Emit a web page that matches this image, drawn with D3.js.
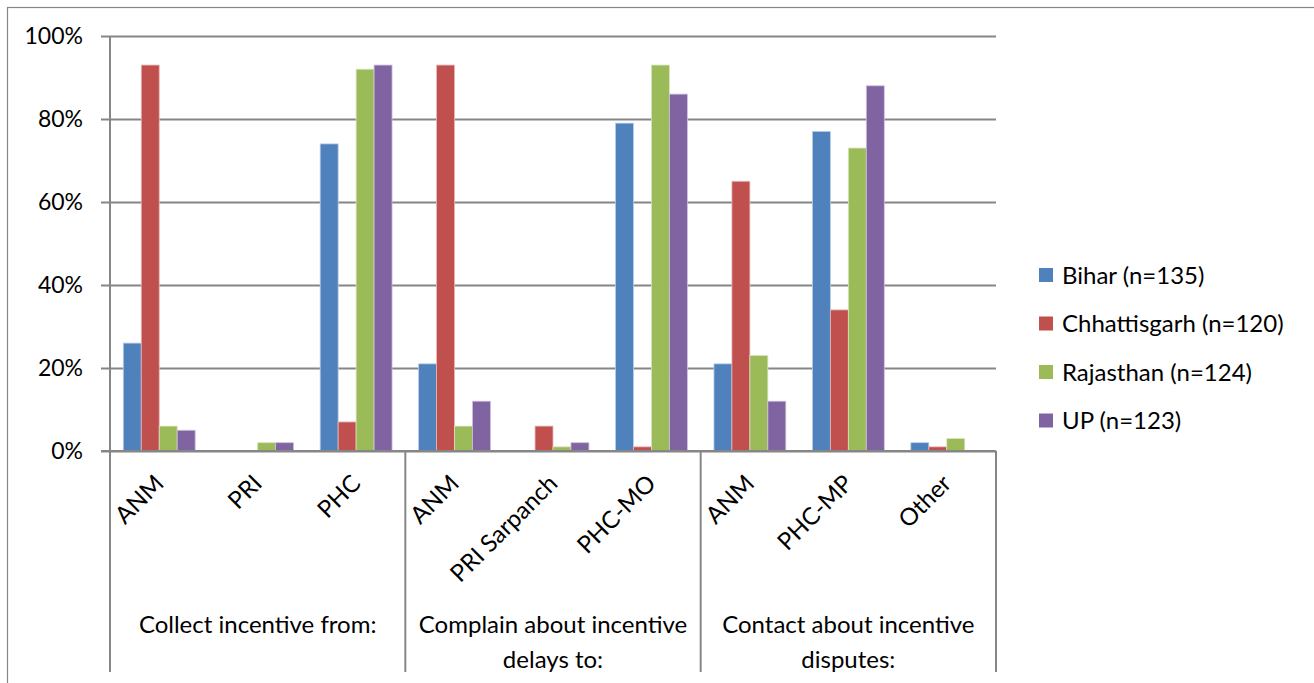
<!DOCTYPE html>
<html>
<head>
<meta charset="utf-8">
<script src="https://cdn.jsdelivr.net/npm/d3@7"></script>
<style>
  html, body { margin: 0; padding: 0; background: #fff; }
  svg text { font-family: Lato, "Open Sans", sans-serif; fill: #000; }
</style>
</head>
<body>
<svg id="chart" width="1314" height="683"></svg>
<script>
// Who ASHAs go to about incentive payments, by state (share of respondents)
const groups = ["Collect incentive from:", "Complain about incentive\ndelays to:", "Contact about incentive\ndisputes:"];
const categories = ["ANM", "PRI", "PHC", "ANM", "PRI Sarpanch", "PHC-MO", "ANM", "PHC-MP", "Other"];
const seriesNames = ["Bihar (n=135)", "Chhattisgarh (n=120)", "Rajasthan (n=124)", "UP (n=123)"];
const bihar        = [26, 0, 74, 21, 0, 79, 21, 77, 2];
const chhattisgarh = [93, 0, 7, 93, 6, 1, 65, 34, 1];
const rajasthan    = [6, 2, 92, 6, 1, 93, 23, 73, 3];
const up           = [5, 2, 93, 12, 2, 86, 12, 88, 0];
const yTicks = [0, 20, 40, 60, 80, 100];
const colors = ["#4F81BD", "#C0504D", "#9BBB59", "#8064A2"];
const outline = ["#B9CDE5", "#E6B9B8", "#D7E4BD", "#CCC1DA"];

const seriesValues = [bihar, chhattisgarh, rajasthan, up];
const svg = d3.select("#chart");

const plot = { left: 110, right: 996, top: 36, bottom: 451 };
const axisBottom = 672;
const gridColor = "#868686";

// outer chart frame
svg.append("rect")
  .attr("x", 7.5).attr("y", 7.5)
  .attr("width", 1330).attr("height", 700)
  .attr("fill", "none").attr("stroke", "#868686").attr("stroke-width", 1.2);

const idx = d3.range(categories.length);
const x0 = d3.scaleBand().domain(idx).range([plot.left, plot.right]).paddingInner(0.27).paddingOuter(0.135);
const x1 = d3.scaleBand().domain(d3.range(seriesNames.length)).range([0, x0.bandwidth()]);
const y = d3.scaleLinear().domain([0, 100]).range([plot.bottom, plot.top]);

// horizontal gridlines with left tick stubs
const yAxis = d3.axisLeft(y).tickValues(yTicks).tickFormat(d => d + "%")
  .tickSize(-(plot.right - plot.left)).tickPadding(27);
const gy = svg.append("g").attr("transform", `translate(${plot.left},0)`).call(yAxis);
gy.select(".domain").remove();
gy.selectAll(".tick line").attr("x1", -9).attr("x2", plot.right - plot.left)
  .attr("stroke", gridColor).attr("stroke-width", 2);
gy.selectAll(".tick text").attr("font-size", 23).attr("fill", "#000");

// bars
const barG = svg.append("g");
seriesValues.forEach((vals, s) => {
  barG.selectAll(null).data(idx).enter().append("rect")
    .attr("x", i => x0(i) + x1(s))
    .attr("y", i => y(vals[i]))
    .attr("width", x1.bandwidth())
    .attr("height", i => plot.bottom - y(vals[i]))
    .attr("fill", colors[s])
    .attr("stroke", outline[s])
    .attr("stroke-width", 0.8);
});

// value axis line and category axis line
svg.append("line").attr("x1", plot.left).attr("x2", plot.left)
  .attr("y1", plot.top).attr("y2", axisBottom)
  .attr("stroke", gridColor).attr("stroke-width", 2);
svg.append("line").attr("x1", plot.left - 9).attr("x2", plot.right)
  .attr("y1", plot.bottom).attr("y2", plot.bottom)
  .attr("stroke", gridColor).attr("stroke-width", 2);

// group separators
const groupBounds = [3, 6, 9].map(k => plot.left + (plot.right - plot.left) * k / categories.length);
groupBounds.forEach(gx => {
  svg.append("line").attr("x1", gx).attr("x2", gx)
    .attr("y1", plot.bottom).attr("y2", axisBottom)
    .attr("stroke", gridColor).attr("stroke-width", 2);
});

// rotated category labels
svg.append("g").selectAll("text").data(idx).enter().append("text")
  .attr("transform", i => `translate(${x0(i) + x0.bandwidth() / 2},${plot.bottom + 28}) rotate(-45)`)
  .attr("text-anchor", "end")
  .attr("dy", "0.35em")
  .attr("font-size", 24)
  .text(i => categories[i]);

// group labels
groups.forEach((g, k) => {
  const gx0 = k === 0 ? plot.left : groupBounds[k - 1];
  const cx = (gx0 + groupBounds[k]) / 2;
  const t = svg.append("text").attr("text-anchor", "middle").attr("font-size", 24);
  g.split("\n").forEach((ln, j) => {
    t.append("tspan").attr("x", cx).attr("y", 633 + j * 35).text(ln);
  });
});

// legend
const legend = svg.append("g").attr("transform", "translate(1039,275)");
seriesNames.forEach((name, s) => {
  const row = legend.append("g").attr("transform", `translate(0,${s * 48.5})`);
  row.append("rect").attr("x", 0).attr("y", -7).attr("width", 14).attr("height", 14)
    .attr("fill", colors[s]);
  row.append("text").attr("x", 23).attr("y", 0).attr("dy", "0.36em")
    .attr("font-size", 24).text(name);
});
</script>
</body>
</html>
